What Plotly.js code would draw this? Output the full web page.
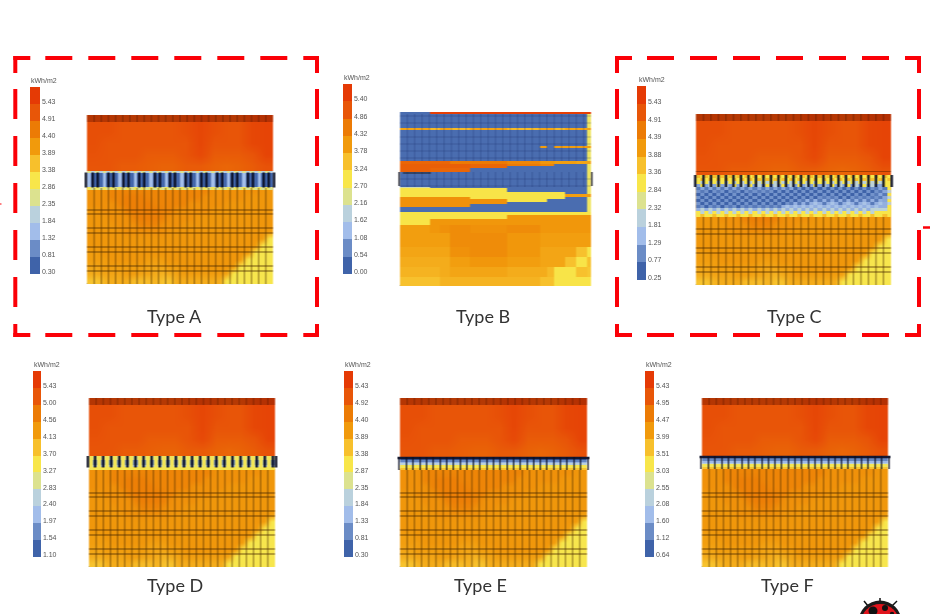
<!DOCTYPE html>
<html><head><meta charset="utf-8">
<script src="https://cdn.plot.ly/plotly-3.0.1.min.js"></script>
<style>
html,body{margin:0;padding:0;background:#fff;overflow:hidden}
#plot{width:930px;height:614px}
.cartesianlayer{filter:blur(.7px)}
.infolayer .colorbar{filter:blur(.45px)}
</style></head><body><div id="plot"></div>
<script>
// Legend band colours, low to high
const BAND_COLORS=['#3f63a9','#6b8cc6','#a2bdea','#bad1dd','#dce28f','#f8e64a','#f7c02c','#f19a0c','#ec7b05','#e85608','#e53a05'];
// Legend labels of each panel, low to high
const TICKS_A=['0.30','0.81','1.32','1.84','2.35','2.86','3.38','3.89','4.40','4.91','5.43'];
const TICKS_B=['0.00','0.54','1.08','1.62','2.16','2.70','3.24','3.78','4.32','4.86','5.40'];
const TICKS_C=['0.25','0.77','1.29','1.81','2.32','2.84','3.36','3.88','4.39','4.91','5.43'];
const TICKS_D=['1.10','1.54','1.97','2.40','2.83','3.27','3.70','4.13','4.56','5.00','5.43'];
const TICKS_E=['0.30','0.81','1.33','1.84','2.35','2.87','3.38','3.89','4.40','4.92','5.43'];
const TICKS_F=['0.64','1.12','1.60','2.08','2.55','3.03','3.51','3.99','4.47','4.95','5.43'];

// Upper facade (kWh/m2), top row first
const UPPER_FIELD=[
[5.3,5.3,5.2,5.2,5.2,5.2,5.2,5.3,5.45,5.3,5.2,5.2,5.45,5.5],
[5.3,5.3,5.2,5.2,5.2,5.2,5.2,5.3,5.45,5.3,5.2,5.2,5.45,5.5],
[5.3,5.2,5.2,5.2,5.2,5.2,5.2,5.2,5.45,5.2,5.2,5.2,5.45,5.5],
[5.25,5.2,5.2,5.2,5.1,5.1,5.1,5.2,5.4,5.1,5.1,5.1,5.2,5.5],
[5.2,5.2,5.1,5.1,5.05,5.0,5.0,5.1,5.1,5.0,4.95,5.0,5.1,5.25]];
// Lower facade (kWh/m2), top row first
const LOWER_FIELD=[
[4.3,4.3,4.3,4.5,4.5,4.5,4.5,4.5,4.5,4.5,4.5,4.5,4.5,4.5,4.5,4.5,4.5,4.3,4.3,4.3,4.3,4.3,4.3,4.3,4.2,4.2],
[4.3,4.3,4.3,4.5,4.5,4.6,4.6,4.6,4.5,4.5,4.5,4.5,4.5,4.5,4.5,4.5,4.3,4.3,4.3,4.3,4.3,4.3,4.2,4.2,4.2,4.2],
[4.3,4.3,4.3,4.3,4.5,4.6,4.6,4.6,4.6,4.5,4.5,4.5,4.5,4.5,4.3,4.3,4.3,4.3,4.3,4.2,4.2,4.2,4.2,4.2,4.2,4.2],
[4.2,4.2,4.3,4.3,4.3,4.5,4.6,4.6,4.6,4.6,4.5,4.5,4.3,4.3,4.3,4.3,4.3,4.2,4.2,4.2,4.2,4.2,4.2,4.2,4.2,4.2],
[4.2,4.2,4.2,4.3,4.3,4.3,4.5,4.6,4.6,4.6,4.5,4.3,4.3,4.3,4.3,4.2,4.2,4.2,4.2,4.2,4.2,4.2,4.2,4.2,4.2,4.2],
[4.2,4.2,4.2,4.2,4.3,4.3,4.3,4.5,4.5,4.5,4.3,4.3,4.3,4.2,4.2,4.2,4.2,4.2,4.2,4.2,4.2,4.2,4.2,4.2,4.2,4.2],
[4.2,4.2,4.2,4.2,4.2,4.3,4.3,4.3,4.3,4.3,4.3,4.2,4.2,4.2,4.2,4.2,4.2,4.2,4.2,4.2,4.2,4.2,4.2,4.2,4.2,4.1],
[4.2,4.2,4.2,4.2,4.2,4.2,4.2,4.2,4.2,4.2,4.2,4.2,4.2,4.2,4.2,4.2,4.2,4.2,4.2,4.2,4.2,4.2,4.2,4.2,4.1,3.1],
[4.2,4.2,4.2,4.2,4.2,4.2,4.2,4.2,4.2,4.2,4.2,4.2,4.2,4.2,4.2,4.2,4.2,4.2,4.2,4.2,4.2,4.2,4.2,4.1,3.1,3.1],
[4.1,4.1,4.2,4.2,4.2,4.2,4.2,4.2,4.2,4.2,4.2,4.2,4.2,4.2,4.2,4.2,4.2,4.2,4.2,4.2,4.2,4.2,4.1,3.1,3.1,3.1],
[4.1,4.1,4.1,4.2,4.2,4.2,4.2,4.2,4.1,4.1,4.1,4.2,4.2,4.2,4.2,4.2,4.2,4.2,4.2,4.2,4.2,4.1,3.1,3.1,3.1,3.1],
[4.0,4.0,4.1,4.1,4.1,4.1,4.1,4.1,4.0,4.0,4.0,4.1,4.1,4.2,4.2,4.2,4.2,4.2,4.2,4.2,4.1,3.1,3.1,3.1,3.1,3.1],
[3.9,3.9,4.0,4.0,4.0,4.1,4.1,4.0,4.0,3.9,3.8,3.9,4.0,4.1,4.1,4.1,4.1,4.1,4.1,4.0,3.1,3.1,3.1,3.1,3.1,3.1],
[3.6,3.6,3.8,3.9,3.9,3.9,3.7,3.7,3.7,3.8,3.6,3.6,3.9,3.9,3.9,3.9,3.9,3.9,3.9,3.1,3.1,3.1,3.1,3.1,3.1,3.1]];

// Window band of Type A, top row first
const BAND_A=[
[2.6,2.0,2.6,2.0,2.6,2.0,2.6,2.0,2.6,2.0,2.6,2.0,2.6,2.0,2.6,2.0,2.6,2.0,2.6,2.0,2.6,2.0,2.6,2.0,2.6,2.0,2.6,2.0,2.6,2.0,2.6,2.0,2.6,2.0,2.6,2.0,2.6,2.0,2.6,2.0,2.6,2.0,2.6,2.0,2.6,2.0,2.6,2.0],
[1.6,0.6,0.4,0.6,1.6,0.6,0.4,0.6,1.6,0.6,0.4,0.6,1.6,0.6,0.4,0.6,1.6,0.6,0.4,0.6,1.6,0.6,0.4,0.6,1.6,0.6,0.4,0.6,1.6,0.6,0.4,0.6,1.6,0.6,0.4,0.6,1.6,0.6,0.4,0.6,1.6,0.6,0.4,0.6,1.6,0.6,0.4,0.6],
[3.0,2.6,3.0,2.6,3.0,2.6,3.0,2.6,3.0,2.6,3.0,2.6,3.0,2.6,3.0,2.6,3.0,2.6,3.0,2.6,3.0,2.6,3.0,2.6,3.0,2.6,3.0,2.6,3.0,2.6,3.0,2.6,3.0,2.6,3.0,2.6,3.0,2.6,3.0,2.6,3.0,2.6,3.0,2.6,3.0,2.6,3.0,2.6]];
const DARK_A=[-0.15,0.8,1.5,3.0,3.7,5.1,5.8,7.3,8.0,9.5,10.2,11.6,12.3,13.8,14.5,16.0,16.7,18.2,18.9,20.3,21.0,22.5,23.2,24.7,25.4,26.15];

// Window band of Type C, top row first
const BAND_C=[
[3.6,3.1,3.6,3.1,3.6,3.1,3.6,3.1,3.6,3.1,3.6,3.1,3.6,3.1,3.6,3.1,3.6,3.1,3.6,3.1,3.6,3.1,3.6,3.1,3.6,3.1,3.6,3.1,3.6,3.1,3.6,3.1,3.6,3.1,3.6,3.1,3.6,3.1,3.6,3.1,3.6,3.1,3.6,3.1,3.6,3.1,3.6,3.1],
[3.1,3.6,3.1,3.6,3.1,3.6,3.1,3.6,3.1,3.6,3.1,3.6,3.1,3.6,3.1,3.6,3.1,3.6,3.1,3.6,3.1,3.6,3.1,3.6,3.1,3.6,3.1,3.6,3.1,3.6,3.1,3.6,3.1,3.6,3.1,3.6,3.1,3.6,3.1,3.6,3.1,3.6,3.1,3.6,3.1,3.6,3.1,3.6],
[3.1,2.1,3.1,2.1,3.1,2.1,3.1,2.1,3.1,2.1,3.1,2.1,3.1,2.1,3.1,2.1,3.1,2.1,3.1,2.1,3.1,2.1,3.1,2.1,3.1,2.1,3.1,2.1,3.1,2.1,3.1,2.1,3.1,2.1,3.1,2.1,3.1,2.1,3.1,2.1,3.1,2.1,3.1,2.1,3.1,2.1,3.1,3.1],
[1.3,3.1,1.3,2.1,1.3,3.1,1.3,2.1,1.3,3.1,1.3,2.1,1.3,3.1,1.3,2.1,1.3,3.1,1.3,2.1,1.3,3.1,1.3,2.1,1.3,3.1,1.3,2.1,1.3,3.1,1.3,2.1,1.3,3.1,1.3,2.1,1.3,3.1,1.3,2.1,1.3,3.1,1.3,2.1,1.3,1.3,3.1,3.1],
[0.8,1.3,0.8,1.3,0.8,1.3,0.8,1.3,0.8,1.3,0.8,1.3,0.8,1.3,0.8,1.3,0.8,1.3,0.8,1.3,0.8,1.3,0.8,1.3,0.4,1.1,0.4,1.1,0.4,1.1,0.4,1.1,0.4,1.1,0.4,1.1,0.4,1.1,0.4,1.1,0.4,1.1,0.4,1.1,0.8,1.3,0.8,3.1],
[1.1,0.8,1.1,0.4,1.1,0.8,1.1,0.4,1.1,0.8,1.1,0.4,1.1,0.8,1.1,0.8,1.1,0.8,1.1,0.4,1.1,0.4,1.1,0.4,1.1,0.4,1.1,0.4,1.1,0.4,1.1,0.4,1.1,0.4,1.1,0.4,1.1,0.4,1.1,0.4,1.1,0.4,1.1,0.4,1.1,0.8,1.3,2.1],
[0.4,1.1,0.4,1.1,0.4,1.1,0.4,1.1,0.4,1.1,0.4,1.1,0.4,1.1,0.4,1.1,0.4,1.1,0.4,1.1,0.4,1.1,0.4,1.1,0.4,1.1,0.4,1.1,0.4,1.1,0.4,1.1,0.4,1.1,0.4,1.1,0.4,1.1,0.4,1.1,0.4,1.1,0.4,1.1,0.8,1.3,0.8,3.1],
[1.1,0.4,1.1,0.4,1.1,0.4,1.1,0.4,1.1,0.4,1.1,0.4,1.1,0.4,1.1,0.4,1.1,0.4,1.1,0.4,1.1,0.4,1.1,0.4,1.1,0.4,1.1,0.4,1.1,0.4,1.1,0.8,1.1,0.8,1.1,0.4,1.1,0.4,1.1,0.8,1.1,0.8,1.1,0.8,1.1,0.8,1.3,2.1],
[0.4,1.1,0.4,1.1,0.4,1.1,0.4,1.1,0.4,1.1,0.4,1.1,0.4,1.1,0.4,1.1,0.4,1.1,0.4,1.1,0.4,1.1,0.4,1.1,0.4,1.1,0.8,1.4,0.8,1.4,0.8,1.4,0.8,1.4,0.8,1.4,0.8,1.4,0.8,1.4,0.8,1.4,0.8,1.4,0.8,1.4,1.3,3.1],
[1.1,0.4,1.1,0.4,1.1,0.4,1.1,0.4,1.1,0.4,1.1,0.4,1.1,0.4,1.1,0.4,1.1,0.4,1.1,0.4,1.1,0.4,1.1,0.8,1.4,0.8,1.4,0.8,1.4,1.7,1.4,0.8,1.4,1.7,1.4,0.8,1.4,1.7,1.4,0.8,1.4,1.7,1.4,0.8,1.4,1.7,1.4,2.1],
[0.8,1.1,0.4,1.1,0.8,1.1,0.4,1.1,0.8,1.1,0.4,1.1,0.8,1.1,0.8,1.1,0.8,1.1,0.8,1.1,0.8,1.4,1.7,1.4,1.7,1.4,1.7,1.4,1.7,1.4,1.7,1.4,1.7,1.4,1.7,1.4,1.7,1.4,1.7,1.4,1.7,1.4,1.7,1.4,1.7,1.4,1.4,3.1],
[1.4,2.1,1.4,2.1,1.4,2.1,1.4,2.1,1.4,2.1,1.4,2.1,1.4,2.1,1.4,2.1,1.4,2.1,1.4,2.1,1.4,2.1,1.4,2.1,1.4,2.1,1.4,2.1,1.4,2.1,1.4,2.1,1.4,2.1,1.4,2.1,1.4,2.1,1.4,2.1,1.4,2.1,1.4,2.1,2.1,2.1,2.1,3.1],
[3.1,2.1,3.1,2.1,3.1,2.1,3.1,2.1,3.1,2.1,3.1,2.1,3.1,2.1,3.1,2.1,3.1,2.1,3.1,2.1,3.1,2.1,3.1,2.1,3.1,2.1,3.1,2.1,3.1,2.1,3.1,2.1,3.1,2.1,3.1,2.1,3.1,2.1,3.1,2.1,3.1,2.1,3.1,2.1,3.1,3.1,3.1,3.1],
[3.1,3.6,3.1,3.1,3.6,3.1,3.1,3.6,3.1,3.1,3.6,3.1,3.1,3.6,3.1,3.1,3.6,3.1,3.1,3.6,3.1,3.1,3.6,3.1,3.1,3.6,3.1,3.1,3.6,3.1,3.1,3.6,3.1,3.1,3.6,3.1,3.1,3.6,3.1,3.1,3.6,3.1,3.1,3.6,3.1,3.1,3.6,3.1]];
const DARK_C=[-0.1,1,2,3,4,5,6,7,8,9,10,11,12,13,14,15,16,17,18,19,20,21,22,23,24,25,26.1];

// Window band of Type D, top row first
const BAND_D=[
[3.4,3.0,3.4,3.0,3.4,3.0,3.4,3.0,3.4,3.0,3.4,3.0,3.4,3.0,3.4,3.0,3.4,3.0,3.4,3.0,3.4,3.0,3.4,3.0,3.4,3.0,3.4,3.0,3.4,3.0,3.4,3.0,3.4,3.0,3.4,3.0,3.4,3.0,3.4,3.0,3.4,3.0,3.4,3.0,3.4,3.0],
[3.4,1.7,3.4,1.7,3.4,1.7,3.4,1.7,3.4,1.7,3.4,1.7,3.4,1.7,3.4,1.7,3.4,1.7,3.4,1.7,3.4,1.7,3.4,1.7,3.4,1.7,3.4,1.7,3.4,1.7,3.4,1.7,3.4,1.7,3.4,1.7,3.4,1.7,3.4,1.7,3.4,1.7,3.4,1.7,3.4,1.7],
[3.4,2.4,3.4,2.2,3.4,2.4,3.4,2.2,3.4,2.4,3.4,2.2,3.4,2.4,3.4,2.2,3.4,2.4,3.4,2.2,3.4,2.4,3.4,2.2,3.4,2.4,3.4,2.2,3.4,2.4,3.4,2.2,3.4,2.4,3.4,2.2,3.4,2.4,3.4,2.2,3.4,2.4,3.4,2.2,3.4,2.4],
[3.4,3.5,3.4,3.5,3.4,3.5,3.4,3.5,3.4,3.5,3.4,3.5,3.4,3.5,3.4,3.5,3.4,3.5,3.4,3.5,3.4,3.5,3.4,3.5,3.4,3.5,3.4,3.5,3.4,3.5,3.4,3.5,3.4,3.5,3.4,3.5,3.4,3.5,3.4,3.5,3.4,3.5,3.4,3.5,3.4,3.5]];
const DARK_D=[-0.15,0.85,1.98,3.11,4.24,5.37,6.5,7.63,8.76,9.89,11.02,12.15,13.28,14.41,15.54,16.67,17.8,18.93,20.06,21.19,22.32,23.45,24.58,25.71,26.15];

// Window bands of Type E and F, top row first
const BAND_E=[[0.4,0.4],[1.0,1.0],[1.5,1.5],[2.1,2.1],[3.1,3.1],[3.6,3.6]];
const BAND_F=[[0.7,0.7],[1.3,1.3],[1.8,1.8],[2.3,2.3],[3.2,3.2],[3.7,3.7]];
const DARK_EF=[-0.15,0.9,1.8,2.8,3.7,4.6,5.6,6.5,7.4,8.4,9.3,10.2,11.1,12.1,13,13.9,14.9,15.8,16.7,17.7,18.6,19.5,20.4,21.4,22.3,23.2,24.2,25.1,26.15];

// Type B facade, irregular cells: column edges, row edges (top first), values (top row first)
const B_X=[0,4.1,5.5,6.8,9.5,14.5,19.1,20,20.9,22.5,23.9,25.5,26];
const B_Y=[174,172.5,158,156,140,138,125,122,120,118,114,99,98,94,92,89,87,84,82,79,74,71,67,61,53,39,29,19,9,0];
const B_FIELD=[
[0.4,5.6,5.6,5.6,5.6,5.6,5.6,5.6,5.6,5.6,5.6,5.6],
[0.4,0.4,0.4,0.4,0.4,0.4,0.4,0.4,0.4,0.4,0.4,2.8],
[3.9,3.6,3.9,3.6,3.9,3.6,3.9,3.9,3.6,3.9,3.9,3.9],
[0.4,0.4,0.4,0.4,0.4,0.4,0.4,0.4,0.4,0.4,0.4,2.8],
[0.4,0.4,0.4,0.4,0.4,0.4,4.0,0.4,4.0,4.0,4.0,4.0],
[0.4,0.4,0.4,0.4,0.4,0.4,0.4,0.4,0.4,0.4,0.4,2.8],
[4.9,4.9,4.9,4.6,4.6,4.4,4.1,4.1,4.0,4.0,3.9,3.9],
[5.0,5.0,5.0,5.0,4.9,4.6,4.4,4.4,0.4,0.4,0.4,2.8],
[5.0,5.0,5.0,5.0,4.9,0.4,0.4,0.4,0.4,0.4,0.4,2.8],
[5.0,4.9,4.9,4.9,0.4,0.4,0.4,0.4,0.4,0.4,0.4,2.8],
[0.4,0.4,0.4,0.4,0.4,0.4,0.4,0.4,0.4,0.4,0.4,2.8],
[2.2,0.4,0.4,0.4,0.4,0.4,0.4,0.4,0.4,0.4,0.4,2.8],
[3.0,3.0,3.0,3.0,3.0,0.4,0.4,0.4,0.4,0.4,0.4,2.8],
[3.0,3.0,3.0,3.0,3.0,3.0,3.0,3.0,3.0,0.4,0.4,2.8],
[3.0,3.0,3.0,3.0,3.0,3.0,3.0,3.0,3.0,4.0,4.0,4.0],
[4.2,4.2,4.2,4.2,3.0,3.0,3.0,3.0,3.0,0.4,0.4,2.8],
[4.2,4.2,4.2,4.2,4.2,3.0,3.0,0.4,0.4,0.4,0.4,2.8],
[4.2,4.2,4.2,4.2,4.2,0.4,0.4,0.4,0.4,0.4,0.4,2.8],
[4.2,4.2,4.2,4.2,0.4,0.4,0.4,0.4,0.4,0.4,0.4,2.8],
[0.4,0.4,0.4,0.4,0.4,0.4,0.4,0.4,0.4,0.4,0.4,2.8],
[3.0,3.0,3.0,3.0,3.0,3.0,3.0,3.0,3.0,3.0,3.0,3.0],
[3.0,3.0,3.0,3.0,3.0,4.1,4.1,4.1,4.1,4.1,4.1,4.1],
[3.0,4.1,4.1,4.1,4.1,4.1,4.1,4.1,4.1,4.1,4.1,4.1],
[4.0,4.1,4.2,4.3,4.2,4.3,4.1,4.1,4.1,4.1,4.1,4.1],
[4.0,4.0,4.0,4.3,4.3,4.1,4.0,4.0,4.0,4.0,4.0,4.0],
[3.9,3.9,3.9,4.2,4.3,4.1,3.9,3.9,3.9,3.9,3.5,3.0],
[3.8,3.8,3.8,4.0,4.1,4.0,3.9,3.9,3.9,3.5,3.0,3.5],
[3.7,3.7,3.8,3.9,3.9,3.8,3.8,3.6,3.0,3.0,3.5,3.4],
[3.5,3.5,3.7,3.7,3.7,3.7,3.5,3.5,3.0,3.0,3.0,3.0]];

// Height above panel base of the mullion lines on the lower facade
const RAILS=[13,18,32,37,51,56,70,74];
// Cell lines of the blue glazing in Type B: height ranges and rows
const B_SPANS=[[125,172],[99,114]];
const B_ROWS=[100,107,128,135,142,149,163,170];

const PANELS=[
 {name:'Type A',ticks:TICKS_A,px:[87,273,115,284],bar:[30,39.5,87,274],lab:[174,316],title:[44,80],band:BAND_A,bandY:[113,111,97,94],low:96,dark:DARK_A,darkY:[96.5,111.5]},
 {name:'Type B',ticks:TICKS_B,px:[400,591,112,286],bar:[342.7,351.3,84,274],lab:[483,316],title:[357,77],},
 {name:'Type C',ticks:TICKS_C,px:[696,891,114,285],bar:[637,646,86,280],lab:[794,316],title:[652,79],band:BAND_C,bandY:[110,107,104,101,98,95,92,89,86,83,80,77,74,71,68],low:68,dark:DARK_C,darkY:[98,110]},
 {name:'Type D',ticks:TICKS_D,px:[89,275,398,567],bar:[32.7,41,371,557],lab:[175,585],title:[46.5,364],band:BAND_D,bandY:[111,107,102,100,97],low:97,dark:DARK_D,darkY:[99.5,111]},
 {name:'Type E',ticks:TICKS_E,px:[400,587,398,567],bar:[344,352.5,371,557],lab:[480,585],title:[358,364],band:BAND_E,bandY:[110,107,105,104,102,99,97],low:97,dark:DARK_EF,darkY:[97,110],cap:true},
 {name:'Type F',ticks:TICKS_F,px:[702,888,398,567],bar:[645,654,371,557],lab:[787,585],title:[659,364],band:BAND_F,bandY:[111,109,106,104,103,100,98],low:98,dark:DARK_EF,darkY:[98,111],cap:true}
];

const W=930,H=614;
const fx=v=>v/W, fy=v=>1-v/H;
const stepped=BAND_COLORS.flatMap((c,i)=>[[i/11,c],[(i+1)/11,c]]);
const smooth=[[0,BAND_COLORS[0]],...BAND_COLORS.map((c,i)=>[(i+.5)/11,c]),[1,BAND_COLORS[10]]];
const edges=(a,b,n)=>Array.from({length:n+1},(_,i)=>a+(b-a)*i/n);
const NCOL=26, PAD=0.35;
const traces=[], shapes=[], annotations=[];
const layout={width:W,height:H,margin:{l:0,r:0,t:0,b:0},paper_bgcolor:'#fff',plot_bgcolor:'rgba(0,0,0,0)',showlegend:false};

const lines=(xa,ya,xs,ys,color,width)=>traces.push({type:'scatter',mode:'lines',x:xs,y:ys,xaxis:xa,yaxis:ya,line:{color,width},hoverinfo:'skip',showlegend:false,connectgaps:false});
const vert=(list,a,b)=>({x:list.flatMap(v=>[v,v,null]),y:list.flatMap(()=>[a,b,null])});
const horiz=(list,a,b)=>({x:list.flatMap(()=>[a,b,null]),y:list.flatMap(v=>[v,v,null])});
const UNITS=Array.from({length:NCOL-1},(_,i)=>i+1);
const fieldMin=Number(TICKS_A[0]), fieldMax=fieldMin+11*(Number(TICKS_A[10])-fieldMin)/10;

PANELS.forEach((p,i)=>{
  const n=i?String(i+1):'';
  const xa='x'+n, ya='y'+n;
  const [x0,x1,y0,y1]=p.px, ht=y1-y0, u=(x1-x0)/NCOL;
  layout['xaxis'+n]={domain:[fx(x0-PAD*u),fx(x1+PAD*u)],range:[-PAD,NCOL+PAD],visible:false,fixedrange:true,anchor:ya};
  layout['yaxis'+n]={domain:[fy(y1),fy(y0)],range:[0,ht],visible:false,fixedrange:true,anchor:xa};
  const vals=p.ticks.map(Number), step=(vals[10]-vals[0])/10;
  const base={type:'heatmap',xaxis:xa,yaxis:ya,zmin:vals[0],zmax:vals[0]+11*step,colorscale:smooth,showscale:false,hoverinfo:'skip',zsmooth:false};
  const field={...base,zmin:fieldMin,zmax:fieldMax,zsmooth:'best'};
  const bar={thickness:p.bar[1]-p.bar[0],thicknessmode:'pixels',len:p.bar[3]-p.bar[2],lenmode:'pixels',
    x:fx(p.bar[0]),xanchor:'left',y:fy(p.bar[3]),yanchor:'bottom',xpad:0,ypad:0,outlinewidth:0,borderwidth:0,
    tickmode:'array',tickvals:vals.map(v=>v+0.13*step),ticktext:p.ticks,ticks:'',ticklen:0,
    tickfont:{family:'Liberation Sans',size:7,color:'#555'}};
  // Legend swatch holder, hidden under the facade
  traces.push({...base,colorscale:stepped,x:[0,1],y:[0,1],z:[[vals[0]]],showscale:true,colorbar:bar});
  annotations.push({xref:'paper',yref:'paper',x:fx(p.title[0]),y:fy(p.title[1]),text:'kWh/m2',showarrow:false,font:{family:'Liberation Sans',size:7,color:'#555'},xanchor:'center',yanchor:'middle'});
  annotations.push({xref:'paper',yref:'paper',x:fx(p.lab[0]),y:fy(p.lab[1]),text:p.name,showarrow:false,font:{family:'Lato',size:18,color:'#333'},xanchor:'center',yanchor:'middle'});

  if(p.name==='Type B'){
    traces.push({...base,x:B_X,y:B_Y.slice().reverse(),z:B_FIELD.slice().reverse()});
    B_SPANS.forEach(([a,b])=>{ const g=vert(UNITS,a,b); lines(xa,ya,g.x,g.y,'rgba(25,45,110,.3)',1); });
    let g=horiz(B_ROWS,0,NCOL); lines(xa,ya,g.x,g.y,'rgba(25,45,110,.3)',1);
    g=vert([-0.12,26.12],100,114); lines(xa,ya,g.x,g.y,'rgba(20,20,30,.85)',1.6);
    g=horiz([113],0.4,4.2); lines(xa,ya,g.x,g.y,'rgba(20,20,20,.6)',1.5);
    return;
  }
  const top=p.bandY[0];
  traces.push({...field,x:edges(0,NCOL,14),y:edges(top,ht,5),z:UPPER_FIELD.slice().reverse()});
  traces.push({...field,x:edges(0,NCOL,NCOL),y:edges(0,98,14),z:LOWER_FIELD.slice().reverse()});
  const bz=p.band.slice().reverse();
  traces.push({...base,x:edges(0,NCOL,bz[0].length),y:p.bandY.slice().reverse(),z:bz});
  const grid='rgba(75,42,0,.42)';
  let g=vert(UNITS,0,p.low); lines(xa,ya,g.x,g.y,grid,1.6);
  g=horiz(RAILS.filter(v=>v<p.low-2),0,NCOL); lines(xa,ya,g.x,g.y,'rgba(75,42,0,.52)',1.6);
  g=horiz([ht-3.5],0,NCOL); lines(xa,ya,g.x,g.y,'rgba(120,25,0,.45)',7);
  g=vert(UNITS,ht-7,ht); lines(xa,ya,g.x,g.y,'rgba(70,20,0,.45)',1);
  g=vert(p.dark,p.darkY[0],p.darkY[1]); lines(xa,ya,g.x,g.y,'rgba(10,14,36,.9)',p.cap?1.4:2.6);
  if(p.cap){ g=horiz([p.bandY[0]-1],-PAD,NCOL+PAD); lines(xa,ya,g.x,g.y,'rgba(12,16,40,.9)',2.4); }
  if(p.name==='Type C'){ g=horiz([113.5],0,NCOL); lines(xa,ya,g.x,g.y,'rgba(90,30,0,.5)',1); }
});

// Red dashed frames
const DASH_H='17px,15px,27px,16px,27px,16px,27px,16px,27px,16px,27px,16px,27px,16px,17px';
const DASH_V='17px,16px,30px,17px,30px,17px,30px,17px,30px,17px,30px,17px,17px';
const seg=(xa,ya,xb,yb,dash,w=4,col='#fb0007')=>shapes.push({type:'line',xref:'paper',yref:'paper',x0:fx(xa),x1:fx(xb),y0:fy(ya),y1:fy(yb),line:{color:col,width:w,dash}});
[[15.3,317],[617,919]].forEach(([l,r])=>{
  seg(l-2,58,r+2,58,DASH_H); seg(l-2,335,r+2,335,DASH_H);
  seg(l,56,l,337,DASH_V); seg(r,56,r,337,DASH_V);
});
seg(923,227.5,930,227.5,'solid',2.5);
seg(0,204,1.5,204,'solid',1);

// Ladybug logo
const disc=(cx,cy,r,col)=>shapes.push({type:'circle',xref:'paper',yref:'paper',x0:fx(cx-r),x1:fx(cx+r),y0:fy(cy+r),y1:fy(cy-r),fillcolor:col,line:{width:0}});
seg(880,598,880,604,'solid',1.5,'#111');
seg(864,601,868,606,'solid',1.5,'#111');
seg(897,601,892,606,'solid',1.5,'#111');
disc(880,622,21.5,'#1a1a1a');
disc(880,623,19,'#e0141c');
disc(873,611,4.5,'#111');
disc(885,608,3,'#111');
disc(892,614,2.2,'#111');

layout.shapes=shapes;
layout.annotations=annotations;
Plotly.newPlot('plot',traces,layout,{displayModeBar:false,staticPlot:true});
</script></body></html>
